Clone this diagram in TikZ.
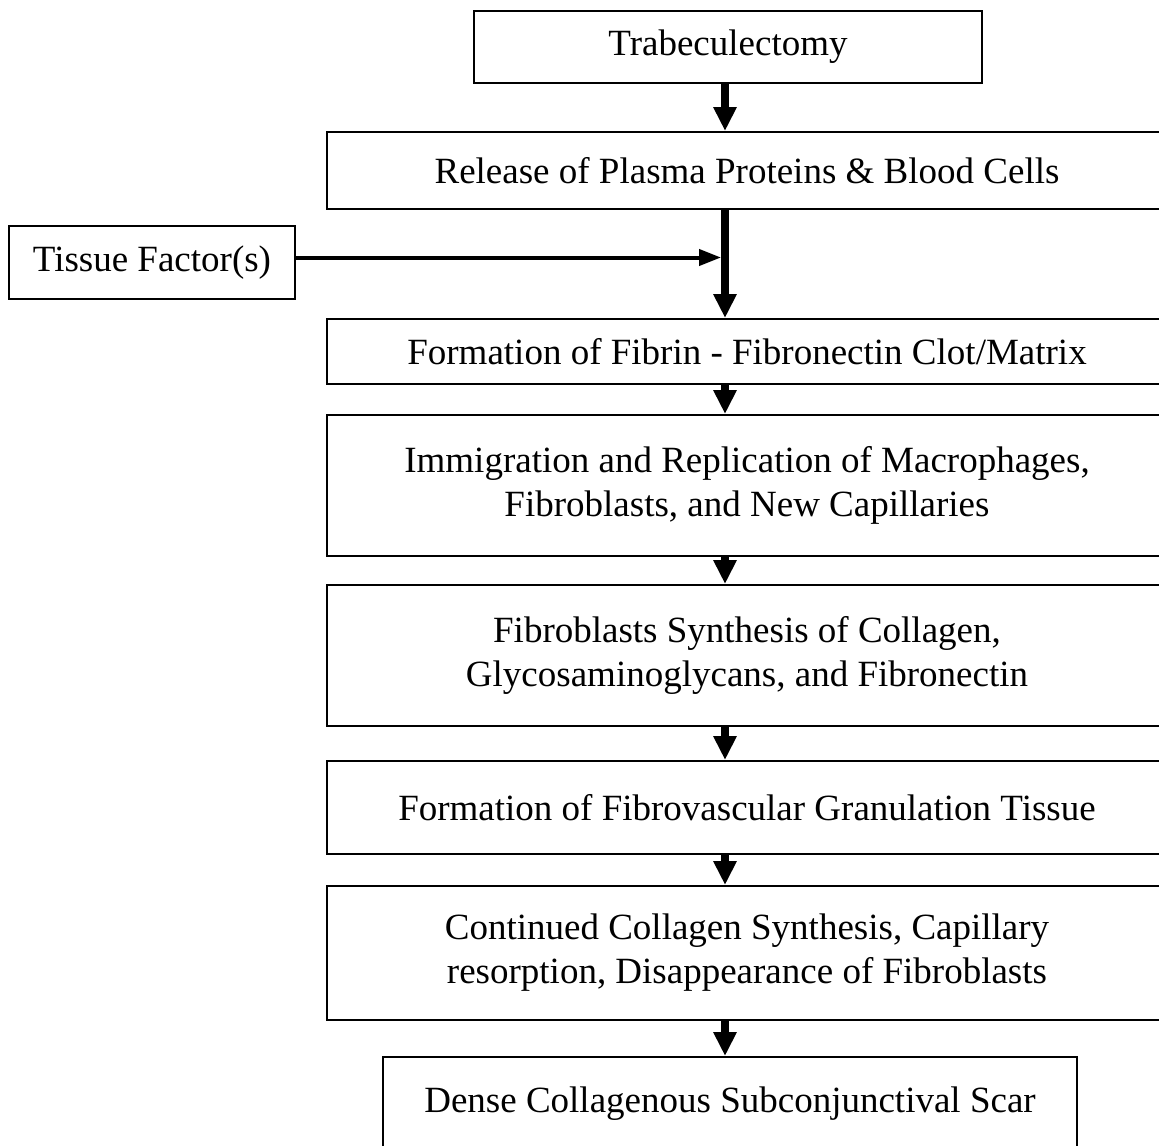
\documentclass[tikz,border=0pt]{standalone}
\usepackage{fontspec}
\setmainfont{Liberation Serif}
\usetikzlibrary{positioning,arrows.meta}

\begin{document}
\begin{tikzpicture}[
      x=0.5pt, y=-0.5pt,
      box/.style={draw, line width=1pt, minimum width=420pt, minimum height=38pt,
                  align=center, inner sep=2pt, font=\fontsize{18.5}{22}\selectfont},
      arr/.style={-{Triangle[width=11pt,length=12pt]}, line width=4pt},
      arrthin/.style={-{Triangle[width=8pt,length=11pt]}, line width=2pt}
    ]
    \clip (0,0) rectangle (1159,1145);
    \coordinate (axis) at (725,0);

    \node[box, minimum width=254pt, minimum height=36pt] (trab) at (728,47) {Trabeculectomy};
    \node[box, minimum height=38.5pt] (rel) [below=23.5pt of trab, xshift=9.5pt] {Release of Plasma Proteins \& Blood Cells};
    \node[box, minimum width=143pt, minimum height=36.5pt] (tissue) at (152,262.5) {Tissue Factor(s)};
    \node[box, minimum height=32.5pt] (fibrin) [below=54pt of rel]      {Formation of Fibrin - Fibronectin Clot/Matrix};
    \node[box, minimum height=70.5pt] (immig)  [below=14.5pt of fibrin] {Immigration and Replication of Macrophages,\\Fibroblasts, and New Capillaries};
    \node[box, minimum height=70.5pt] (synth)  [below=13.5pt of immig]  {Fibroblasts Synthesis of Collagen,\\Glycosaminoglycans, and Fibronectin};
    \node[box, minimum height=46.5pt] (granul) [below=16.5pt of synth]  {Formation of Fibrovascular Granulation Tissue};
    \node[box, minimum height=67pt]   (contin) [below=15pt of granul]   {Continued Collagen Synthesis, Capillary\\resorption, Disappearance of Fibroblasts};
    \node[box, minimum width=347pt, minimum height=46.5pt] (scar) [below=17.5pt of contin, xshift=-8.5pt] {Dense Collagenous Subconjunctival Scar};

    \draw[arr] (trab.south -| axis)   -- (rel.north -| axis);
    \draw[arr] (rel.south -| axis)    -- (fibrin.north -| axis);
    \draw[arrthin, shorten >=2pt] ([yshift=2.5pt]tissue.east) -- ([yshift=2.5pt]tissue.east -| axis);
    \draw[arr] (fibrin.south -| axis) -- (immig.north -| axis);
    \draw[arr] (immig.south -| axis)  -- (synth.north -| axis);
    \draw[arr] (synth.south -| axis)  -- (granul.north -| axis);
    \draw[arr] (granul.south -| axis) -- (contin.north -| axis);
    \draw[arr] (contin.south -| axis) -- (scar.north -| axis);
  \end{tikzpicture}
\end{document}
